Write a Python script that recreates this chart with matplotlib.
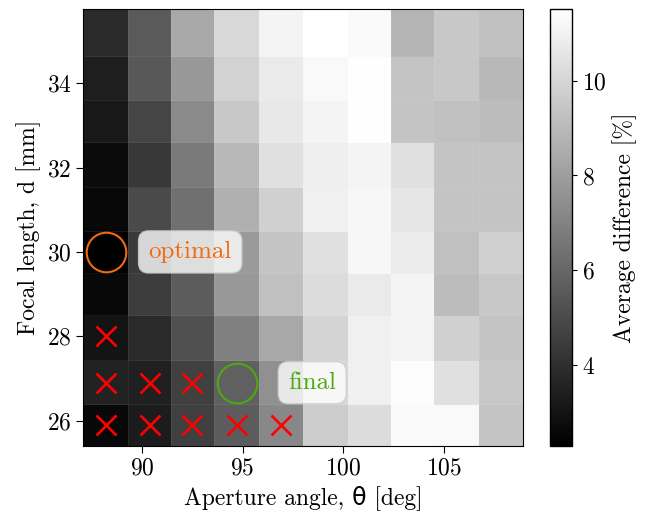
import numpy as np
import matplotlib
matplotlib.use("Agg")
import matplotlib.pyplot as plt

plt.rcParams['font.family'] = ['cmr10', 'DejaVu Sans']
plt.rcParams['mathtext.fontset'] = 'cm'
plt.rcParams['axes.formatter.use_mathtext'] = True
plt.rcParams['font.size'] = 17

# aperture angle [deg] (column centres) and focal length [mm] (row centres)
theta = [88.2, 90.4, 92.5, 94.7, 96.9, 99.1, 101.3, 103.4, 105.6, 107.8]
focal = [25.9, 26.9, 28.0, 29.0, 30.0, 31.0, 32.1, 33.1, 34.1, 35.2]

# average difference [%], one list per focal length (bottom -> top)
diff_259 = [2.59, 3.31, 4.61, 5.62, 7.21, 9.66, 10.24, 11.32, 11.25, 9.37]
diff_269 = [3.53, 3.45, 4.61, 5.76, 7.50, 10.09, 10.96, 11.39, 10.38, 9.52]
diff_280 = [3.02, 3.82, 5.19, 6.92, 8.36, 9.95, 10.96, 11.10, 9.80, 9.37]
diff_290 = [2.59, 4.46, 5.62, 7.78, 9.23, 10.24, 10.74, 11.10, 9.08, 9.52]
diff_300 = [2.37, 4.39, 5.76, 7.86, 9.37, 10.38, 11.18, 10.81, 9.23, 9.80]
diff_310 = [2.59, 4.97, 6.34, 8.65, 9.80, 10.96, 11.18, 10.60, 9.37, 9.37]
diff_321 = [2.73, 4.32, 6.70, 8.94, 10.38, 10.89, 11.10, 10.38, 9.37, 9.37]
diff_331 = [3.17, 4.79, 7.28, 9.52, 10.67, 11.10, 11.43, 9.37, 9.23, 9.08]
diff_341 = [3.38, 5.48, 7.78, 9.88, 10.74, 11.25, 11.43, 9.37, 9.52, 8.94]
diff_352 = [3.82, 5.55, 8.36, 10.09, 11.10, 11.50, 11.32, 8.79, 9.52, 9.23]

# failed configurations (column index, row index)
fail_col = [0, 0, 0, 1, 1, 2, 2, 3, 4]
fail_row = [0, 1, 2, 0, 1, 0, 1, 0, 0]

# optimal and final choices (column index, row index)
optimal = (0, 4)
final = (3, 1)

Z = np.array([diff_259, diff_269, diff_280, diff_290, diff_300,
              diff_310, diff_321, diff_331, diff_341, diff_352])

fig = plt.figure(figsize=(6.47, 5.12), dpi=100)
ax = fig.add_axes([0.1288, 0.1289, 0.6795, 0.8529])
cax = fig.add_axes([0.850, 0.1289, 0.034, 0.8529])

mesh = ax.pcolormesh(theta, focal, Z, cmap='gray', shading='nearest',
                     vmin=2.3, vmax=11.5, edgecolors=(1, 1, 1, 0.06),
                     linewidth=0.4)

ax.plot([theta[c] for c in fail_col], [focal[r] for r in fail_row], 'x',
        color='red', markersize=14, mew=1.9, linestyle='none')

orange = '#f26a10'
green = '#4aaa10'
ax.plot(theta[optimal[0]], focal[optimal[1]], 'o', mfc='none', mec=orange,
        markersize=28.5, mew=1.5)
ax.plot(theta[final[0]], focal[final[1]], 'o', mfc='none', mec=green,
        markersize=28.5, mew=1.5)

box = dict(boxstyle='round,pad=0.4', facecolor='white', alpha=0.8,
           edgecolor='0.8')
ax.text(92.4, 30.0, 'optimal', color=orange, ha='center', va='center',
        fontsize=18, bbox=box)
ax.text(98.45, 26.9, 'final', color=green, ha='center', va='center',
        fontsize=18, bbox=box)

ax.set_xticks([90, 95, 100, 105])
ax.set_yticks([26, 28, 30, 32, 34])
ax.set_xlabel('Aperture angle, θ [deg]')
ax.set_ylabel('Focal length, d [mm]')
ax.tick_params(direction='out', length=5)

cb = fig.colorbar(mesh, cax=cax)
cb.set_ticks([4, 6, 8, 10])
cb.set_label('Average difference [%]')
cb.outline.set_linewidth(1.0)

fig.savefig('out.png', dpi=100)
